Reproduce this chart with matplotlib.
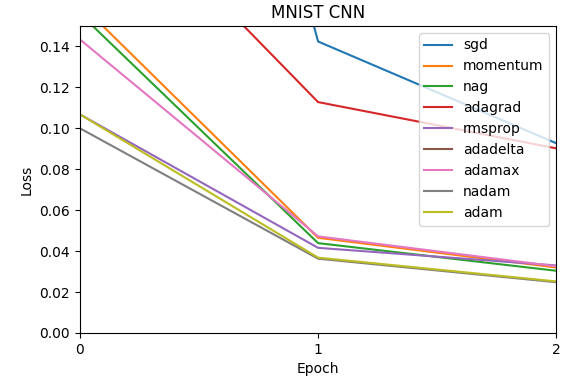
import matplotlib
matplotlib.use("Agg")
import matplotlib.pyplot as plt

# =========================
# Data (loss per epoch)
# =========================
epochs = [0, 1, 2]
optimizers = ["sgd", "momentum", "nag", "adagrad", "rmsprop",
              "adadelta", "adamax", "nadam", "adam"]

sgd = [0.57, 0.1424, 0.0927]
momentum = [0.161, 0.0465, 0.0320]
nag = [0.156, 0.0439, 0.0304]
adagrad = [0.232, 0.1128, 0.0902]
rmsprop = [0.1068, 0.0416, 0.0330]
adadelta = [0.90, 0.50, 0.30]
adamax = [0.1434, 0.0472, 0.0326]
nadam = [0.1000, 0.0363, 0.0248]
adam = [0.1068, 0.0368, 0.0252]

losses = [sgd, momentum, nag, adagrad, rmsprop, adadelta, adamax, nadam, adam]

# =========================
# Plot
# =========================
fig = plt.figure(figsize=(5.63, 3.8), dpi=100)
ax = fig.add_axes([0.142, 0.1237, 0.846, 0.808])

for name, vals in zip(optimizers, losses):
    ax.plot(epochs, vals, label=name, linewidth=1.5)

ax.set_xlim(0, 2)
ax.set_ylim(0, 0.15)
ax.set_xticks([0, 1, 2])
ax.set_title("MNIST CNN")
ax.set_xlabel("Epoch")
ax.set_ylabel("Loss")
ax.legend(loc="upper right")

fig.savefig("out.png", dpi=100)
